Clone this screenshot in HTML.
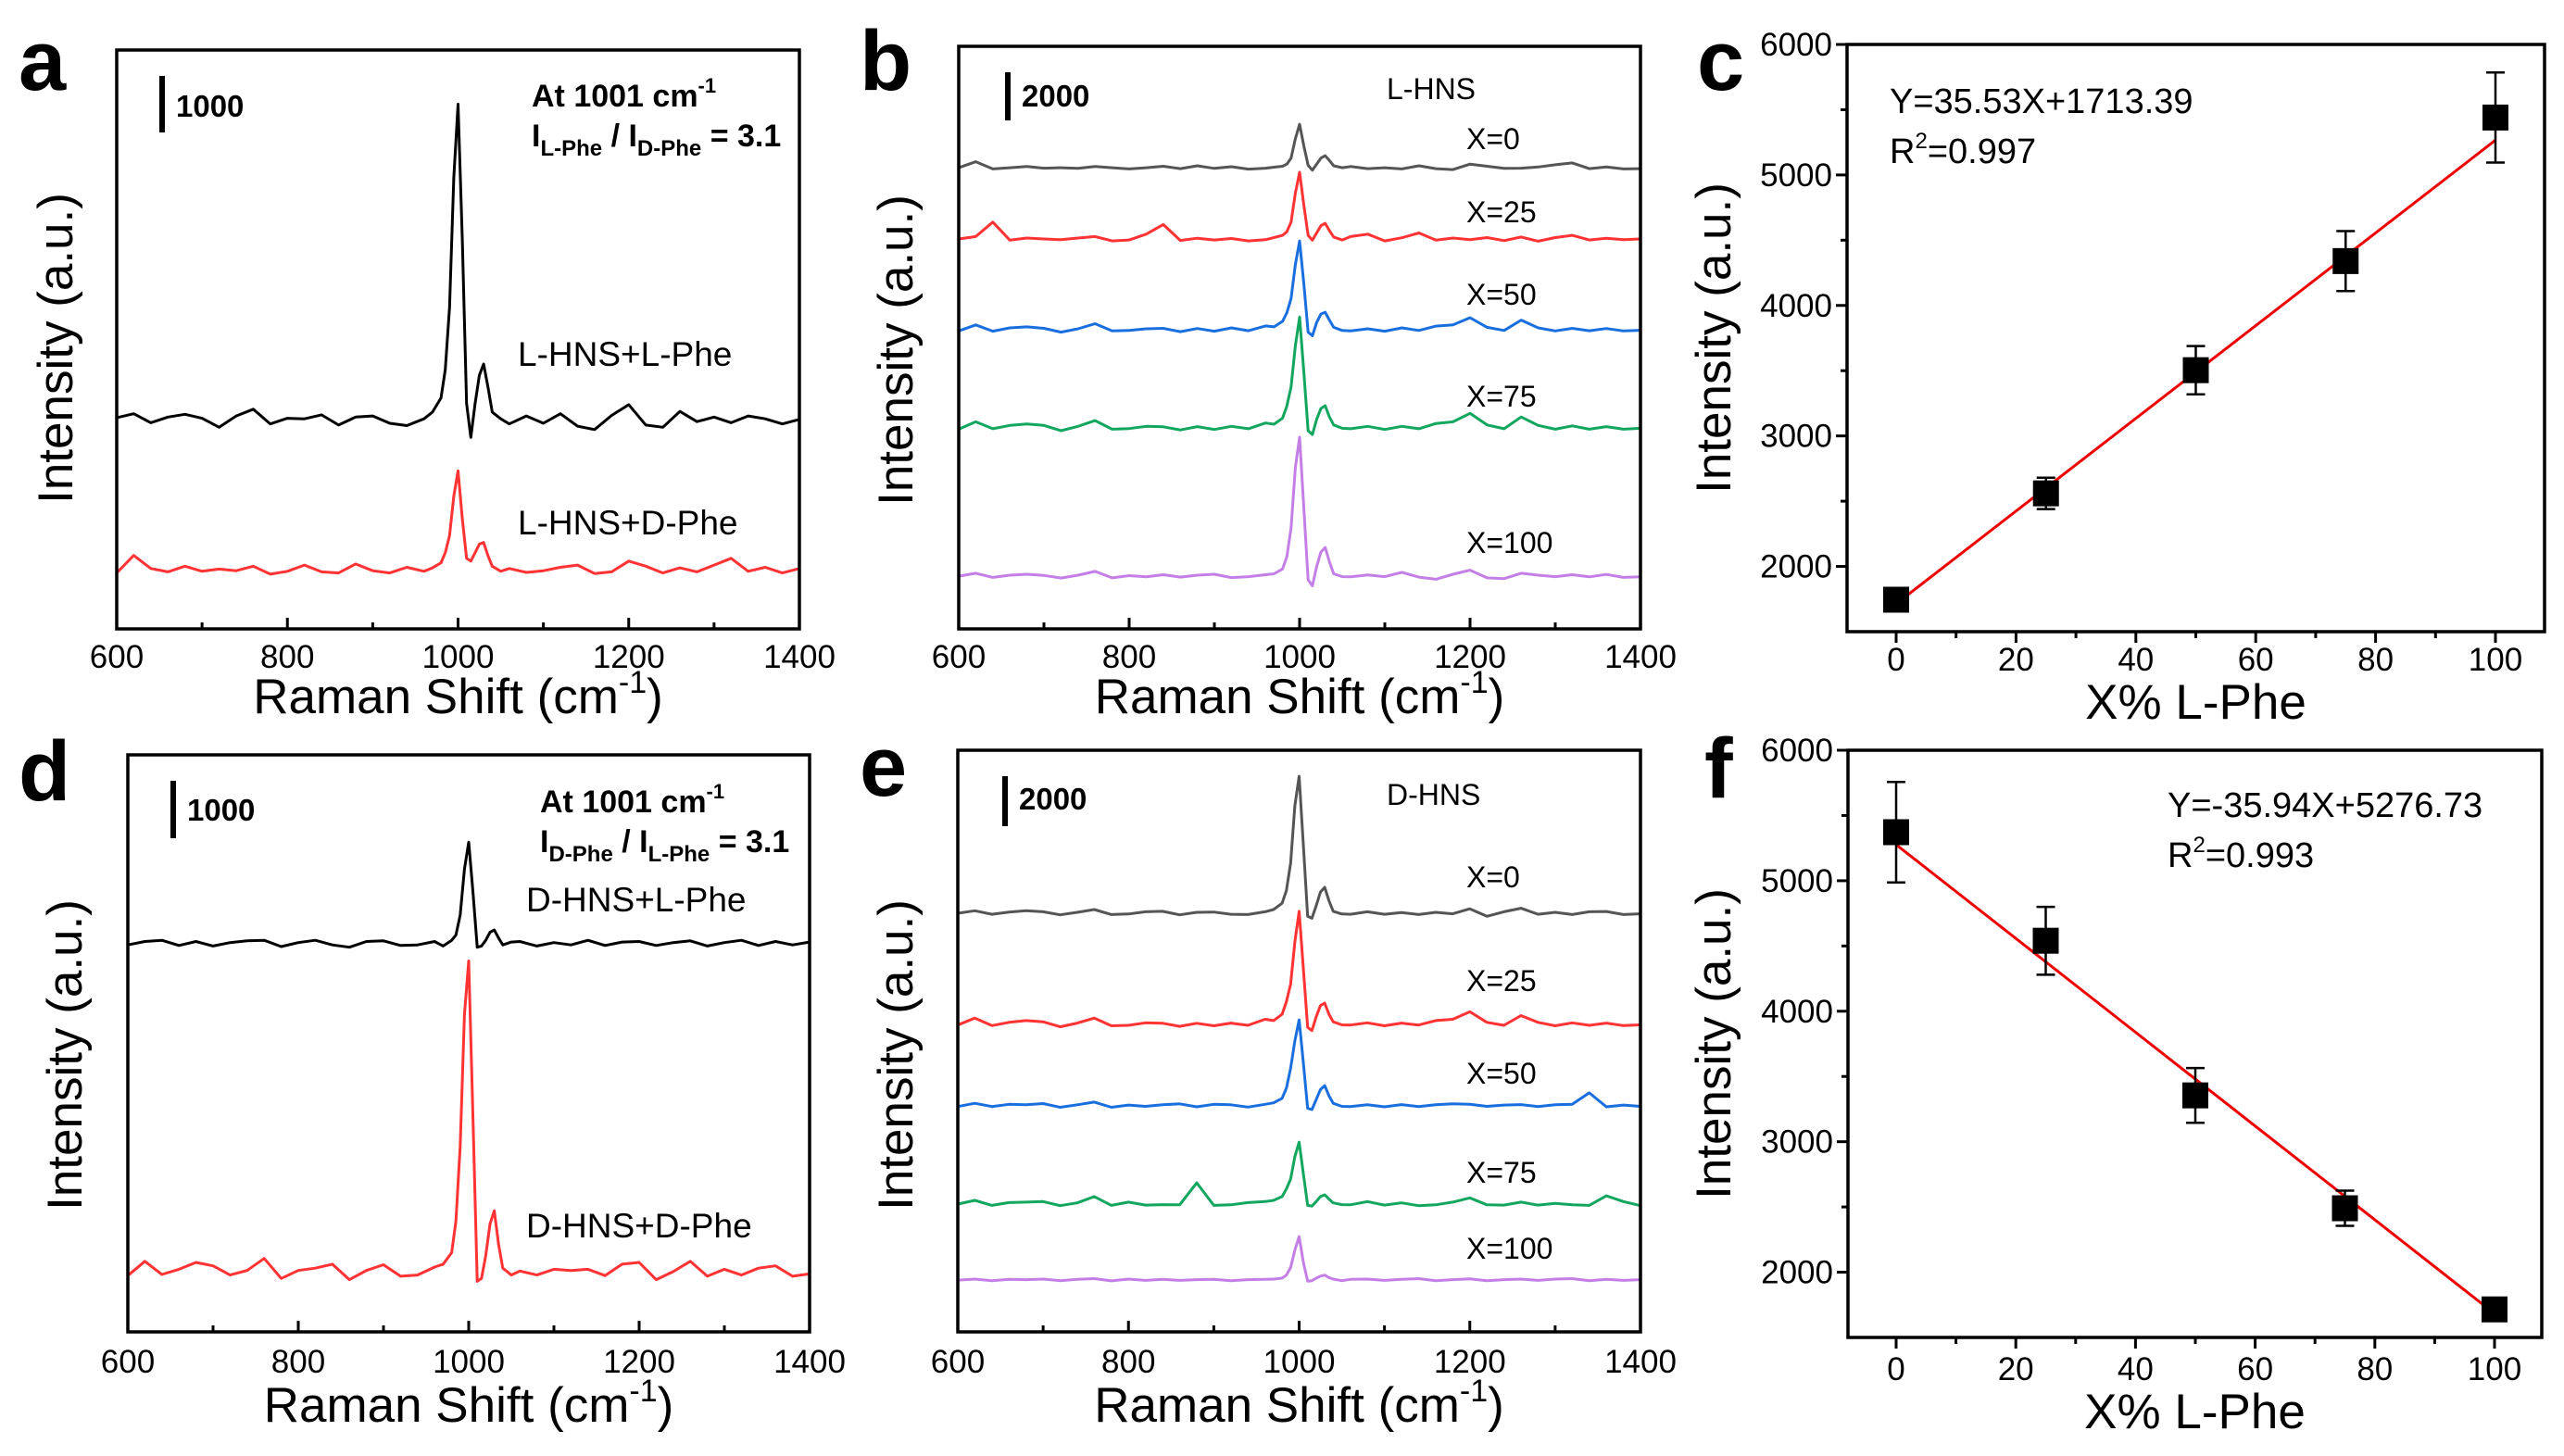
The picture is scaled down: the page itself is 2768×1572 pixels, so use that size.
<!DOCTYPE html>
<html>
<head>
<meta charset="utf-8">
<style>
html,body{margin:0;padding:0;background:#fff;}
svg{display:block;font-family:"Liberation Sans",Arial,sans-serif;}
</style>
</head>
<body>
<svg id="fig" width="2768" height="1572" viewBox="0 0 2768 1572" xmlns="http://www.w3.org/2000/svg"></svg>
<script>
// ---------- shared Raman shift grid ----------
const shiftGrid = [600,620,640,660,680,700,720,740,760,780,800,820,840,860,880,900,920,940,960,
 970,980,985,990,995,1000,1005,1010,1015,1020,1025,1030,1035,1040,1050,
 1060,1080,1100,1120,1140,1160,1180,1200,1220,1240,1260,1280,1300,1320,1340,1360,1380,1400];
const xTickLabels = [600,800,1000,1200,1400];

// ---------- panel a ----------
const aOffsets = [3690, 1050];
const aLL = [50,120,-40,60,110,40,-120,80,200,-60,40,30,100,-80,60,80,-50,-90,30, 150,400,900,2000,4300,5600,3200,300,-300,300,800,1000,600,150,30, -60,80,-50,120,-100,-160,90,280,-80,-120,160,-20,60,-40,80,30,-60,20];
const aLD = [-60,250,20,-40,60,-30,10,-20,60,-80,-30,80,-40,-60,100,-20,-60,40,-30, 30,120,300,600,1300,1750,900,200,150,300,450,480,250,60,-30, 20,-50,-20,40,80,-70,-40,150,60,-60,30,-40,80,200,-30,40,-60,20];

// ---------- panel b (L-HNS) ----------
const bOffsets = [19150, 16190, 12420, 8350, 2190];
const bX0 = [0,250,-50,0,50,-20,0,-30,50,0,-50,0,60,-40,80,-30,40,-60,-20, 20,60,150,400,1200,1800,900,100,-100,150,400,500,300,80,0, 50,-40,0,-50,80,-40,-80,150,60,-30,-20,30,120,200,-40,30,-50,-40];
const bX25 = [0,100,700,-50,40,0,-30,40,100,-80,-40,200,600,-60,30,-40,20,-80,-30, 60,150,300,700,1900,2770,1400,150,-50,250,550,650,350,80,-40, 100,200,-80,50,250,-50,40,-30,60,-70,80,-90,60,150,-40,30,-30,0];
const bX50 = [-50,200,-60,80,120,60,-100,40,250,-50,-30,40,60,-80,50,-60,80,-40,160, 120,350,700,1300,2700,3690,1900,-100,-250,300,650,730,400,100,-30, -50,40,-60,80,-30,150,200,500,100,-30,400,80,-50,60,-40,50,-50,-20];
const bX75 = [-60,250,-40,100,160,100,-120,60,300,-60,-30,60,40,-90,50,-70,60,-40,200, 150,400,900,1700,3400,4600,2300,-120,-280,350,800,920,450,120,-20, -40,60,-70,60,-40,180,250,600,120,-40,450,100,-60,80,-60,50,-60,-20];
const bX100 = [0,120,-50,40,80,30,-80,40,200,-70,20,-30,60,-40,40,80,-60,-20,60, 100,300,800,2000,4500,5770,2800,-150,-400,400,1000,1190,600,100,-20, -30,50,-20,160,-40,-130,80,250,-70,-100,120,40,-20,60,-30,70,-50,-30];

// ---------- panel d ----------
const dOffsets = [6760, 1030];
const dDL = [-20,40,60,-30,40,-40,20,50,60,-50,20,60,-20,-60,40,50,-30,-20,40, -40,60,150,500,1300,1770,900,-60,-40,60,200,240,100,-20,30, 40,-40,20,-20,60,-30,30,40,-30,20,50,-40,20,60,-30,40,-20,30];
const dDD = [-50,200,-30,60,180,120,-40,40,250,-100,40,80,150,-120,40,140,-60,-40,100, 150,350,900,2200,4500,5430,2700,-150,-100,300,850,1080,500,80,-40, 30,-40,60,40,60,-50,150,180,-120,20,200,-60,60,-40,80,120,-60,-20];

// ---------- panel e (D-HNS) ----------
const eOffsets = [16740, 12300, 9040, 5110, 2070];
const eX0 = [0,100,-40,50,100,60,-60,40,150,-50,-30,60,80,-60,40,50,-40,-50,60, 150,400,900,2000,4300,5480,2700,-120,-200,300,850,1040,500,80,-30, -40,60,-40,30,-50,40,-20,180,-120,60,200,-40,40,-50,60,70,-50,-20];
const eX25 = [-30,250,-50,80,150,100,-100,50,250,-60,-40,60,40,-80,40,-60,50,-40,200, 150,400,900,1600,3300,4520,2200,-120,-250,300,750,850,400,100,-20, -30,60,-60,50,-30,150,200,500,80,-40,350,80,-60,60,-40,50,-50,-20];
const eX50 = [-30,100,-30,60,40,90,-60,40,150,-60,30,-20,40,80,-40,60,40,-50,60, 120,300,700,1500,2600,3440,1700,-100,-150,250,650,810,400,100,-20, -30,40,-40,50,-30,40,80,60,-20,30,50,-30,40,60,520,-40,30,-20];
const eX75 = [0,150,-50,60,80,100,-60,50,300,-50,80,-40,-20,-30,850,-50,-30,60,100, 150,300,600,1000,1900,2480,1200,-50,-80,100,300,370,200,50,-20, -30,100,-40,50,-60,-30,80,250,-30,-40,80,-40,30,-30,-50,330,100,-60];
const eX100 = [0,40,-20,30,20,40,-20,30,60,-30,40,-10,30,-10,20,30,-20,20,30, 40,80,200,500,1200,1740,700,-40,-20,80,160,200,100,40,-20, 30,40,-10,30,60,-20,20,50,-20,20,40,-10,40,60,-20,30,-10,20];

// ---------- panels c and f (calibration) ----------
const calX = [0,25,50,75,100];
const cMean = [1745,2560,3504,4340,5440];
const cErr = [50,120,185,230,345];
const cFit = [35.53, 1713.39];
const fMean = [5372,4540,3355,2490,1715];
const fErr = [385,260,210,135,40];
const fFit = [-35.94, 5276.73];
const calXTicks = [0,20,40,60,80,100];
const calYTicks = [2000,3000,4000,5000,6000];

// ---------- helpers ----------
const NS = "http://www.w3.org/2000/svg";
const svg = document.getElementById('fig');
const TICK_FS = 35;
function mk(tag, attrs, parent){
  const e = document.createElementNS(NS, tag);
  for (const k in attrs) e.setAttribute(k, attrs[k]);
  (parent||svg).appendChild(e);
  return e;
}
function txt(s, x, y, size, opts, parent){
  opts = opts||{};
  const t = mk('text', {x:x, y:y, 'font-size':size, fill:'#000',
    'text-anchor':opts.anchor||'start', 'font-weight':opts.bold?'bold':'normal'}, parent);
  if (opts.rot) t.setAttribute('transform', 'rotate(-90 '+x+' '+y+')');
  t.textContent = s;
  return t;
}

function spectrumPanel(p){
  const g = mk('g', {});
  
  
  const sx = v => p.l + (v-600)/(1400-600)*(p.r-p.l);
  const sy = v => p.b - v/p.ymax*(p.b-p.t);
  p.series.forEach((s, i) => {
    let d = '';
    shiftGrid.forEach((xv, j) => {
      d += (j?'L':'M') + sx(xv).toFixed(1) + ' ' + sy(p.offsets[i] + s.data[j]).toFixed(1) + ' ';
    });
    const path = mk('path', {d:d, fill:'none', stroke:s.color, 'stroke-width':3, 'stroke-linejoin':'round'}, g);
    
    
  });
  const fr = mk('rect', {x:p.l, y:p.t, width:p.r-p.l, height:p.b-p.t, fill:'none', stroke:'#000', 'stroke-width':3.5}, g);
  
  
  for (let v = 600; v <= 1400; v += 100){
    const major = (v % 200 === 0);
    mk('line', {x1:sx(v), x2:sx(v), y1:p.b, y2:p.b-(major?12:7), stroke:'#000', 'stroke-width':3}, g);
  }
  xTickLabels.forEach(v => {
    const t = txt(String(v), sx(v), p.tickY, TICK_FS, {anchor:'middle'}, g);
    
    
  });
  const xt = mk('text', {x:(p.l+p.r)/2, y:p.titleY, 'font-size':53, 'text-anchor':'middle'}, g);
  
  
  xt.appendChild(document.createTextNode('Raman Shift (cm'));
  const sup = mk('tspan', {'font-size':34, dy:-22}, xt); sup.textContent = '-1';
  const cl = mk('tspan', {dy:22}, xt); cl.textContent = ')';
  const yt = txt('Intensity (a.u.)', p.yTitleX, p.yTitleY, 53, {anchor:'middle', rot:true}, g);
  
  
  const pl = txt(p.letter, p.letterX, p.letterY, 92, {bold:true}, g);
  
  
  const sb = mk('line', {x1:p.bar[0], x2:p.bar[0], y1:p.bar[1], y2:p.bar[2], stroke:'#000', 'stroke-width':6}, g);
  
  
  const sbt = txt(p.barText, p.bar[0]+15, p.barTextY, 33, {bold:true}, g);
  
  
  p.labels.forEach(L => {
    const t = txt(L[0], L[1], L[2], L[3], {}, g);
    
    
  });
  return g;
}

function ratioText(g, x, y1, y2, s1, s2){
  const a = txt('At 1001 cm', x, y1, 34, {bold:true}, g);
  
  
  const sp = mk('tspan', {'font-size':22, dy:-15}, a); sp.textContent = '-1';
  const r = mk('text', {x:x, y:y2, 'font-size':34, 'font-weight':'bold'}, g);
  
  
  const parts = [['I',0,34],[s1,10,24],[' / I',-10,34],[s2,10,24],[' = 3.1',-10,34]];
  parts.forEach(pp => { const t = mk('tspan', {dy:pp[1], 'font-size':pp[2]}, r); t.textContent = pp[0]; });
}

const gA = spectrumPanel({name:'panel-a', l:126, r:863, t:54, b:679, ymax:10250, offsets:aOffsets,
  series:[{name:'series-lhns-lphe', color:'#000', data:aLL},{name:'series-lhns-dphe', color:'#ff3333', data:aLD}],
  tickY:721, titleY:770, yTitleX:78, yTitleY:376, letter:'a', letterX:20, letterY:97,
  bar:[175,82,143], barText:'1000', barTextY:126,
  labels:[['L-HNS+L-Phe',559,395,37],['L-HNS+D-Phe',559,577,37]]});
ratioText(gA, 574, 115, 158, 'L-Phe', 'D-Phe');

spectrumPanel({name:'panel-b', l:1035, r:1771, t:50, b:679, ymax:24190, offsets:bOffsets,
  series:[{name:'series-x0', color:'#555', data:bX0},{name:'series-x25', color:'#ff3333', data:bX25},
          {name:'series-x50', color:'#1a6fdf', data:bX50},{name:'series-x75', color:'#13a65e', data:bX75},
          {name:'series-x100', color:'#c47fe6', data:bX100}],
  tickY:721, titleY:770, yTitleX:985, yTitleY:378, letter:'b', letterX:928, letterY:97,
  bar:[1088,78,130], barText:'2000', barTextY:115,
  labels:[['L-HNS',1497,107,32],['X=0',1583,161,32],['X=25',1583,240,32],['X=50',1583,329,32],['X=75',1583,439,32],['X=100',1583,597,32]]});

const gD = spectrumPanel({name:'panel-d', l:138, r:874, t:815, b:1438, ymax:10050, offsets:dOffsets,
  series:[{name:'series-dhns-lphe', color:'#000', data:dDL},{name:'series-dhns-dphe', color:'#ff3333', data:dDD}],
  tickY:1482, titleY:1535, yTitleX:88, yTitleY:1139, letter:'d', letterX:20, letterY:864,
  bar:[187,843,905], barText:'1000', barTextY:886,
  labels:[['D-HNS+L-Phe',568,984,37],['D-HNS+D-Phe',568,1336,37]]});
ratioText(gD, 583, 877, 920, 'D-Phe', 'L-Phe');

spectrumPanel({name:'panel-e', l:1034, r:1771, t:810, b:1438, ymax:23260, offsets:eOffsets,
  series:[{name:'series-x0', color:'#555', data:eX0},{name:'series-x25', color:'#ff3333', data:eX25},
          {name:'series-x50', color:'#1a6fdf', data:eX50},{name:'series-x75', color:'#13a65e', data:eX75},
          {name:'series-x100', color:'#c47fe6', data:eX100}],
  tickY:1482, titleY:1535, yTitleX:985, yTitleY:1139, letter:'e', letterX:928, letterY:859,
  bar:[1085,838,892], barText:'2000', barTextY:874,
  labels:[['D-HNS',1497,869,32],['X=0',1583,958,32],['X=25',1583,1070,32],['X=50',1583,1170,32],['X=75',1583,1277,32],['X=100',1583,1359,32]]});

function calPanel(p){
  const g = mk('g', {});
  
  
  const sx = v => p.x0 + v/100*(p.x100-p.x0);
  const sy = v => p.b - (v-1500)/(6000-1500)*(p.b-p.t);
  const fr = mk('rect', {x:p.l, y:p.t, width:p.r-p.l, height:p.b-p.t, fill:'none', stroke:'#000', 'stroke-width':3.5}, g);
  
  
  for (let v = 0; v <= 100; v += 10){
    mk('line', {x1:sx(v), x2:sx(v), y1:p.b, y2:p.b+(v%20===0?12:7), stroke:'#000', 'stroke-width':3}, g);
  }
  calXTicks.forEach(v => {
    const t = txt(String(v), sx(v), p.tickY, TICK_FS, {anchor:'middle'}, g);
    
    
  });
  for (let v = 2000; v <= 6000; v += 500){
    mk('line', {x1:p.l, x2:p.l-(v%1000===0?12:7), y1:sy(v), y2:sy(v), stroke:'#000', 'stroke-width':3}, g);
  }
  calYTicks.forEach(v => {
    const t = txt(String(v), p.l-16, sy(v)+12, TICK_FS, {anchor:'end'}, g);
    
    
  });
  const fl = mk('line', {x1:sx(0), y1:sy(p.fit[1]), x2:sx(100), y2:sy(p.fit[0]*100+p.fit[1]), stroke:'#ee0000', 'stroke-width':3}, g);
  
  
  calX.forEach((xv, i) => {
    const cx = sx(xv), cy = sy(p.mean[i]);
    const eb = mk('path', {d:'M'+(cx-10)+' '+sy(p.mean[i]+p.err[i])+' H'+(cx+10)+' M'+cx+' '+sy(p.mean[i]+p.err[i])+' V'+sy(p.mean[i]-p.err[i])+' M'+(cx-10)+' '+sy(p.mean[i]-p.err[i])+' H'+(cx+10),
      fill:'none', stroke:'#000', 'stroke-width':2.5}, g);
    
    
    const m = mk('rect', {x:cx-14, y:cy-14, width:28, height:28, fill:'#000'}, g);
    
    
  });
  const xt = txt('X% L-Phe', (p.l+p.r)/2, p.titleY, 53, {anchor:'middle'}, g);
  
  
  const yt = txt('Intensity (a.u.)', p.yTitleX, (p.t+p.b)/2, 53, {anchor:'middle', rot:true}, g);
  
  
  const pl = txt(p.letter, p.letterX, p.letterY, 92, {bold:true}, g);
  
  
  const eq = txt(p.eq, p.eqX, p.eqY, 38, {}, g);
  
  
  const r2 = mk('text', {x:p.eqX, y:p.eqY+54, 'font-size':38}, g);
  
  
  r2.appendChild(document.createTextNode('R'));
  const s2 = mk('tspan', {'font-size':24, dy:-16}, r2); s2.textContent = '2';
  const s3 = mk('tspan', {dy:16}, r2); s3.textContent = p.r2;
}
calPanel({name:'panel-c', l:1994, r:2747, t:48, b:682, x0:2047, x100:2694, mean:cMean, err:cErr, fit:cFit,
  tickY:724, titleY:776, yTitleX:1868, letter:'c', letterX:1832, letterY:97,
  eq:'Y=35.53X+1713.39', eqX:2040, eqY:122, r2:'=0.997'});
calPanel({name:'panel-f', l:1995, r:2744, t:810, b:1444, x0:2047, x100:2693, mean:fMean, err:fErr, fit:fFit,
  tickY:1490, titleY:1542, yTitleX:1868, letter:'f', letterX:1840, letterY:861,
  eq:'Y=-35.94X+5276.73', eqX:2340, eqY:882, r2:'=0.993'});
</script>
</body>
</html>
